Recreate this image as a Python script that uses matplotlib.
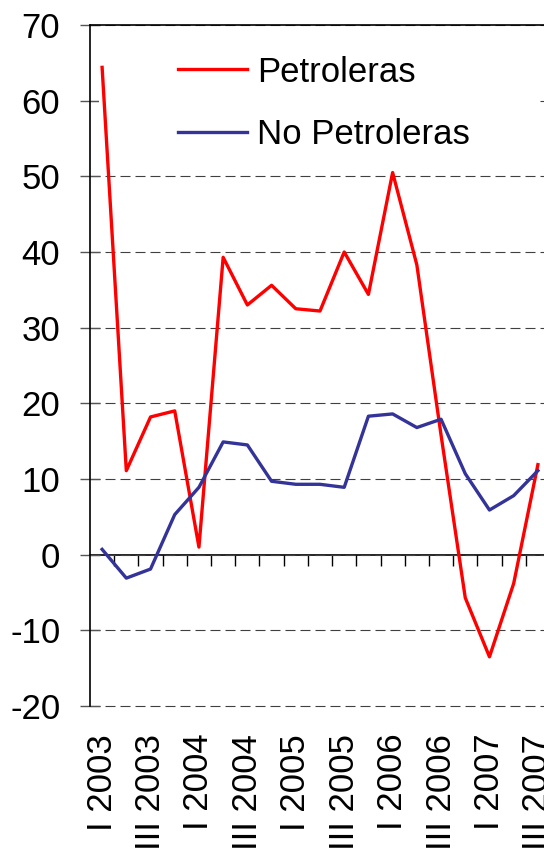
import numpy as np
import matplotlib
matplotlib.use("Agg")
import matplotlib.pyplot as plt
from matplotlib.patches import Rectangle

plt.rcParams["font.family"] = ["Liberation Sans", "DejaVu Sans"]
plt.rcParams["axes.unicode_minus"] = False

quarters = ["I 2003", "II 2003", "III 2003", "IV 2003",
            "I 2004", "II 2004", "III 2004", "IV 2004",
            "I 2005", "II 2005", "III 2005", "IV 2005",
            "I 2006", "II 2006", "III 2006", "IV 2006",
            "I 2007", "II 2007", "III 2007"]
petroleras = [64.4, 11.1, 18.2, 19.0, 1.0, 39.3, 33.0, 35.6, 32.5, 32.2,
              40.0, 34.4, 50.5, 38.3, 15.8, -5.7, -13.5, -3.8, 11.9]
no_petroleras = [0.7, -3.1, -1.9, 5.3, 8.9, 14.9, 14.5, 9.7, 9.3, 9.3,
                 8.9, 18.3, 18.6, 16.8, 17.9, 10.7, 5.9, 7.8, 11.1]
yticks = [-20, -10, 0, 10, 20, 30, 40, 50, 60, 70]

FS = 25
x = np.arange(len(quarters))

fig = plt.figure(figsize=(5.44, 8.49), dpi=100)
ax = fig.add_axes([90 / 544, 143 / 849, 460 / 544, 681 / 849])

ax.plot(x, petroleras, color="#ff0000", lw=2.4, zorder=3, label="Petroleras")
ax.plot(x, no_petroleras, color="#333399", lw=2.4, zorder=3, label="No Petroleras")

ax.set_xlim(-0.5, len(quarters) - 0.5)
ax.set_ylim(-20, 70)
ax.set_yticks(yticks)
ax.yaxis.grid(True, color="#404040", lw=0.8, linestyle=(0, (9, 4.5)))
for gl in ax.get_ygridlines():
    gl.set_clip_on(False)
ax.tick_params(axis="y", direction="inout", length=13.7, width=1, color="#555555",
               labelsize=FS, pad=14.5)

# category labels every second quarter, at the bottom
ax.set_xticks(x[::2])
ax.set_xticklabels(quarters[::2], rotation=90, va="top", ha="center")
ax.tick_params(axis="x", length=0, labelsize=FS, pad=20)

for s in ["bottom", "right"]:
    ax.spines[s].set_visible(False)
ax.spines["left"].set_linewidth(1.2)
ax.spines["top"].set_linewidth(1.2)

# category axis line crossing at zero
sec = ax.secondary_xaxis(20 / 90)
sec.set_xticks(np.arange(0.5, len(quarters) - 0.5, 1))
sec.tick_params(direction="out", length=8, width=1, labelbottom=False, labeltop=False)
for s in sec.spines.values():
    s.set_linewidth(1.2)

# white legend area hiding the gridline behind it
ax.add_patch(Rectangle((0.02, 0.80), 0.95, 0.18, transform=ax.transAxes,
                       facecolor="white", edgecolor="none", zorder=1.6))
ax.legend(loc="upper left", bbox_to_anchor=(0.191, 0.955), frameon=False,
          fontsize=FS, handlelength=2.0, handletextpad=0.28, labelspacing=0.85,
          borderpad=0, borderaxespad=0)

fig.savefig("out.png", dpi=100)
